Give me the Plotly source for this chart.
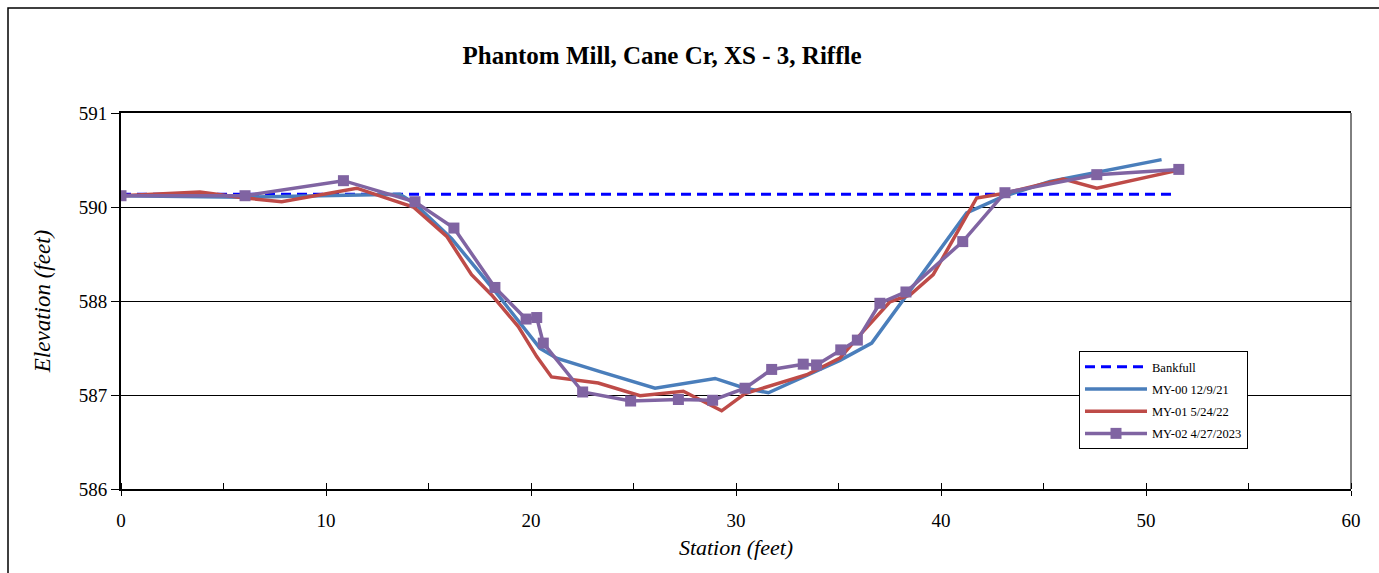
import plotly.graph_objects as go

# ---- data (station ft, elevation ft) ----
bf_station = [0, 51.3]
bf_elev = [589.92, 589.92]

my00_station = [0, 6.0, 13.6, 14.3, 16.13, 18.33, 20.44, 21.25, 23.37, 26.05, 28.98,
                30.44, 31.58, 35.07, 36.62, 41.25, 43.04, 45.32, 50.76]
my00_elev = [589.90, 589.88, 589.92, 589.80, 589.33, 588.60, 587.87, 587.74, 587.56, 587.34, 587.47,
             587.34, 587.28, 587.71, 587.94, 589.67, 589.89, 590.09, 590.38]

my01_station = [0, 3.85, 6.05, 7.84, 11.5, 14.26, 15.89, 17.1, 18.08, 19.38, 20.28, 21.0,
                23.28, 25.32, 27.43, 29.3, 30.44, 33.45, 35.07, 36.05, 37.51, 38.49, 39.62,
                41.74, 43.04, 45.97, 47.6, 51.6]
my01_elev = [589.90, 589.95, 589.87, 589.82, 590.00, 589.75, 589.36, 588.85, 588.58, 588.16, 587.76, 587.49,
             587.41, 587.24, 587.30, 587.04, 587.27, 587.52, 587.74, 588.05, 588.49, 588.58, 588.85,
             589.87, 589.93, 590.12, 590.00, 590.24]

my02_station = [0, 6.05, 10.85, 14.34, 16.24, 18.24, 19.76, 20.28, 20.6, 22.52, 24.86, 27.19,
                28.86, 30.44, 31.74, 33.28, 33.93, 35.11, 35.92, 37.02, 38.29, 41.06, 43.12,
                47.6, 51.6]
my02_elev = [589.90, 589.90, 590.10, 589.82, 589.47, 588.68, 588.26, 588.28, 587.94, 587.29, 587.17, 587.19,
             587.18, 587.34, 587.59, 587.66, 587.65, 587.85, 587.98, 588.47, 588.62, 589.29, 589.94,
             590.18, 590.25]

y_tickvals = [586, 587.25, 588.5, 589.75, 591]
y_ticktext = ["586", "587", "588", "590", "591"]
x_tickvals = [0, 10, 20, 30, 40, 50, 60]

FONT = "Liberation Serif, Times New Roman, serif"

fig = go.Figure()
fig.add_trace(go.Scatter(x=bf_station, y=bf_elev, mode="lines", name="Bankfull",
                         legendgroup="a",
                         line=dict(color="#0000FF", width=3, dash="10px,6px")))
fig.add_trace(go.Scatter(x=my00_station, y=my00_elev, mode="lines", name="MY-00 12/9/21",
                         legendgroup="b",
                         line=dict(color="#4A7EBB", width=3.5)))
fig.add_trace(go.Scatter(x=my01_station, y=my01_elev, mode="lines", name="MY-01 5/24/22",
                         legendgroup="c",
                         line=dict(color="#BE4B48", width=3.5)))
fig.add_trace(go.Scatter(x=my02_station, y=my02_elev, mode="lines+markers", name="MY-02 4/27/2023",
                         legendgroup="d",
                         line=dict(color="#8064A2", width=3.5),
                         marker=dict(symbol="square", size=11, color="#8064A2")))

fig.update_layout(
    width=1379, height=573,
    margin=dict(l=121, r=28, t=113, b=84),
    paper_bgcolor="white", plot_bgcolor="white",
    font=dict(family=FONT, color="black", size=18),
    title=dict(text="<b>Phantom Mill, Cane Cr, XS - 3, Riffle</b>",
               x=662 / 1379, xanchor="center", xref="container",
               y=1 - 55 / 573, yanchor="middle", yref="container",
               font=dict(family=FONT, size=25, color="black")),
    showlegend=True,
    legend=dict(x=(1079 - 121) / 1230, y=(489 - 351) / 376, xanchor="left", yanchor="top",
                bgcolor="white", bordercolor="black", borderwidth=1,
                font=dict(family=FONT, size=12.5, color="black"),
                traceorder="grouped", tracegroupgap=3, itemwidth=62),
)

fig.update_xaxes(range=[0, 60], tickvals=x_tickvals, ticks="outside", ticklen=5,
                 tickcolor="black", tickwidth=1,
                 minor=dict(dtick=5, ticks="inside", ticklen=6, tickcolor="black", tickwidth=1),
                 showgrid=False, zeroline=False,
                 showline=True, linecolor="black", linewidth=2, mirror=True,
                 tickfont=dict(family=FONT, size=19), ticklabelstandoff=8,
                 title=dict(text="<i>Station (feet)</i>", font=dict(family=FONT, size=22), standoff=10))
fig.update_yaxes(range=[586, 591], tickvals=y_tickvals, ticktext=y_ticktext,
                 ticks="outside", ticklen=8, tickcolor="black", tickwidth=1,
                 showgrid=True, gridcolor="black", gridwidth=1, zeroline=False,
                 showline=True, linecolor="black", linewidth=2,
                 tickfont=dict(family=FONT, size=19),
                 title=dict(text="<i>Elevation (feet)</i>", font=dict(family=FONT, size=23), standoff=22))

# right plot border (thin) and outer chart border
fig.add_shape(type="line", xref="paper", yref="paper", x0=1, x1=1, y0=0, y1=1,
              line=dict(color="black", width=1))
fig.add_shape(type="rect", xref="paper", yref="paper",
              x0=(8 - 121) / 1230, x1=(1390 - 121) / 1230,
              y0=(489 - 590) / 376, y1=(489 - 8) / 376,
              line=dict(color="black", width=1.5), fillcolor="rgba(0,0,0,0)", layer="below")

fig.write_html("out.html")
